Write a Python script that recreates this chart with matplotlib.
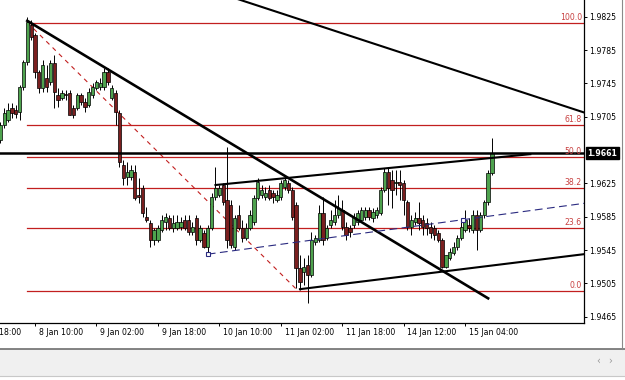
import numpy as np
import matplotlib.pyplot as plt
from matplotlib.patches import Rectangle
from matplotlib.lines import Line2D
import matplotlib.transforms as mtransforms

# H1 bars, OHLC
opens = [1.9677, 1.9695, 1.9701, 1.9715, 1.9713, 1.9711, 1.9741, 1.9771,
         1.9815, 1.9803, 1.9759, 1.9739, 1.9751, 1.9747, 1.9769, 1.9731,
         1.9727, 1.9732, 1.9733, 1.9715, 1.9715, 1.9731, 1.9723, 1.9719,
         1.9731, 1.9739, 1.9741, 1.9741, 1.9759, 1.9727, 1.9733, 1.9709,
         1.9647, 1.9633, 1.9633, 1.9639, 1.9611, 1.9619, 1.9585, 1.9577,
         1.9557, 1.9557, 1.9569, 1.9579, 1.9583, 1.9571, 1.9571, 1.9573,
         1.9581, 1.9581, 1.9567, 1.9583, 1.9557, 1.9565, 1.9549, 1.9571,
         1.9609, 1.9611, 1.9623, 1.9605, 1.9599, 1.9549, 1.9587, 1.9571,
         1.9559, 1.9571, 1.9579, 1.9607, 1.9611, 1.9609, 1.9617, 1.9613,
         1.9605, 1.9609, 1.9621, 1.9625, 1.9617, 1.9599, 1.9523, 1.9519,
         1.9527, 1.9515, 1.9555, 1.9557, 1.9589, 1.9559, 1.9575, 1.9579,
         1.9587, 1.9593, 1.9573, 1.9571, 1.9575, 1.9579, 1.9581, 1.9585,
         1.9593, 1.9583, 1.9587, 1.9589, 1.9617, 1.9639, 1.9629, 1.9625,
         1.9627, 1.9625, 1.9603, 1.9573, 1.9579, 1.9583, 1.9581, 1.9577,
         1.9573, 1.9571, 1.9565, 1.9557, 1.9525, 1.9535, 1.9541, 1.9549,
         1.9559, 1.9569, 1.9575, 1.9569, 1.9587, 1.9569, 1.9587, 1.9603,
         1.9637]
highs = [1.9699, 1.9715, 1.9721, 1.9721, 1.9719, 1.9743, 1.9773, 1.9825,
         1.9821, 1.9805, 1.9761, 1.9773, 1.9767, 1.9773, 1.9779, 1.9739,
         1.9737, 1.9737, 1.9737, 1.9719, 1.9733, 1.9733, 1.9727, 1.9739,
         1.9745, 1.9749, 1.9751, 1.9763, 1.9763, 1.9743, 1.9737, 1.9713,
         1.9653, 1.9651, 1.9647, 1.9647, 1.9631, 1.9623, 1.9597, 1.9581,
         1.9571, 1.9575, 1.9587, 1.9589, 1.9587, 1.9587, 1.9587, 1.9585,
         1.9587, 1.9587, 1.9579, 1.9587, 1.9575, 1.9569, 1.9575, 1.9613,
         1.9645, 1.9623, 1.9625, 1.9669, 1.9605, 1.9587, 1.9599, 1.9581,
         1.9577, 1.9593, 1.9611, 1.9631, 1.9623, 1.9621, 1.9623, 1.9617,
         1.9617, 1.9629, 1.9635, 1.9629, 1.9621, 1.9603, 1.9539, 1.9535,
         1.9539, 1.9567, 1.9563, 1.9599, 1.9609, 1.9575, 1.9593, 1.9605,
         1.9611, 1.9605, 1.9579, 1.9575, 1.9589, 1.9593, 1.9597, 1.9597,
         1.9597, 1.9595, 1.9597, 1.9621, 1.9643, 1.9645, 1.9641, 1.9641,
         1.9641, 1.9629, 1.9605, 1.9587, 1.9591, 1.9603, 1.9587, 1.9583,
         1.9579, 1.9575, 1.9569, 1.9559, 1.9539, 1.9547, 1.9555, 1.9563,
         1.9579, 1.9593, 1.9583, 1.9593, 1.9593, 1.9591, 1.9605, 1.9641,
         1.9679]
lows = [1.9673, 1.9691, 1.9699, 1.9703, 1.9703, 1.9701, 1.9737, 1.9767,
        1.9797, 1.9751, 1.9733, 1.9735, 1.9735, 1.9743, 1.9715, 1.9717,
        1.9725, 1.9725, 1.9707, 1.9703, 1.9713, 1.9719, 1.9711, 1.9717,
        1.9727, 1.9737, 1.9737, 1.9737, 1.9743, 1.9725, 1.9695, 1.9645,
        1.9623, 1.9623, 1.9629, 1.9605, 1.9601, 1.9585, 1.9579, 1.9549,
        1.9551, 1.9555, 1.9567, 1.9569, 1.9569, 1.9567, 1.9569, 1.9569,
        1.9569, 1.9563, 1.9563, 1.9551, 1.9555, 1.9547, 1.9543, 1.9569,
        1.9605, 1.9609, 1.9599, 1.9547, 1.9547, 1.9545, 1.9569, 1.9555,
        1.9557, 1.9569, 1.9575, 1.9605, 1.9607, 1.9605, 1.9605, 1.9601,
        1.9603, 1.9605, 1.9617, 1.9613, 1.9581, 1.9499, 1.9497, 1.9503,
        1.9481, 1.9513, 1.9551, 1.9555, 1.9551, 1.9557, 1.9571, 1.9575,
        1.9583, 1.9569, 1.9557, 1.9561, 1.9571, 1.9575, 1.9579, 1.9581,
        1.9581, 1.9579, 1.9583, 1.9587, 1.9615, 1.9599, 1.9595, 1.9611,
        1.9605, 1.9587, 1.9569, 1.9563, 1.9575, 1.9569, 1.9563, 1.9563,
        1.9559, 1.9557, 1.9555, 1.9523, 1.9523, 1.9533, 1.9539, 1.9545,
        1.9557, 1.9567, 1.9567, 1.9565, 1.9545, 1.9567, 1.9583, 1.9599,
        1.9635]
closes = [1.9695, 1.9709, 1.9713, 1.9709, 1.9708, 1.9741, 1.9771, 1.9819,
          1.9801, 1.9759, 1.9739, 1.9767, 1.9741, 1.9769, 1.9735, 1.9725,
          1.9733, 1.9731, 1.9707, 1.9707, 1.9731, 1.9723, 1.9717, 1.9735,
          1.9741, 1.9747, 1.9745, 1.9759, 1.9747, 1.9739, 1.9711, 1.9651,
          1.9631, 1.9639, 1.9641, 1.9607, 1.9609, 1.9589, 1.9581, 1.9557,
          1.9569, 1.9571, 1.9581, 1.9585, 1.9571, 1.9577, 1.9579, 1.9579,
          1.9571, 1.9567, 1.9573, 1.9557, 1.9571, 1.9549, 1.9571, 1.9609,
          1.9619, 1.9619, 1.9603, 1.9557, 1.9551, 1.9583, 1.9571, 1.9559,
          1.9571, 1.9587, 1.9607, 1.9627, 1.9617, 1.9613, 1.9607, 1.9609,
          1.9611, 1.9625, 1.9629, 1.9617, 1.9585, 1.9523, 1.9507, 1.9525,
          1.9515, 1.9557, 1.9559, 1.9589, 1.9557, 1.9571, 1.9581, 1.9587,
          1.9595, 1.9573, 1.9563, 1.9567, 1.9585, 1.9589, 1.9593, 1.9593,
          1.9585, 1.9591, 1.9593, 1.9617, 1.9639, 1.9619, 1.9617, 1.9627,
          1.9623, 1.9605, 1.9573, 1.9581, 1.9583, 1.9577, 1.9573, 1.9571,
          1.9565, 1.9563, 1.9557, 1.9525, 1.9539, 1.9543, 1.9549, 1.9559,
          1.9573, 1.9581, 1.9571, 1.9587, 1.9569, 1.9587, 1.9603, 1.9637,
          1.9661]

tick_bars = [-7, 9, 25, 41, 57, 73, 89, 105, 121]
tick_labels = ["7 Jan 18:00", "8 Jan 10:00", "9 Jan 02:00", "9 Jan 18:00",
               "10 Jan 10:00", "11 Jan 02:00", "11 Jan 18:00",
               "14 Jan 12:00", "15 Jan 04:00"]
price_ticks = [1.9465, 1.9505, 1.9545, 1.9585, 1.9625, 1.9705, 1.9745,
               1.9785, 1.9825]

# fibonacci retracement: anchors and levels (%)
fib_bars = [7, 77.5]
fib_prices = [1.9818, 1.9496]
fib_levels = [0.0, 23.6, 38.2, 50.0, 61.8, 100.0]

# drawn objects (bar, price) anchors
down_bars, down_prices = [7, 127], [1.9820, 1.9487]
upper_bars, upper_prices = [40, 152], [1.9879, 1.9710]
chan_top_bars, chan_top_prices = [56, 138], [1.9623, 1.9660]
chan_low_bars, chan_low_prices = [78, 152], [1.9498, 1.9540]
chan_mid_bars, chan_mid_prices = [54, 152], [1.9540, 1.9601]
mid_marks_bars, mid_marks_prices = [54, 120.5], [1.9540, 1.9581]
hline_price = 1.9661
last_price = 1.9661

GREEN = '#4ea24e'
RED = '#7a1f1f'
FIB = '#c21f1f'
FS = 5.6

fig = plt.figure(figsize=(6.25, 3.8), dpi=100)
fig.patch.set_facecolor('white')
ax = fig.add_axes([0, 1 - 323 / 380, 584 / 625, 323 / 380])
ax.set_xlim(-0.115, 151.97)
ax.set_ylim(1.94574, 1.9845)

# candles
x = np.arange(len(opens))
o, h, l, c = map(np.array, (opens, highs, lows, closes))
up = c >= o
ax.vlines(x, l, h, color='black', lw=0.7, zorder=3)
bottom = np.minimum(o, c)
height = np.maximum(np.abs(c - o), 0.00005)
ax.bar(x, height, bottom=bottom, width=0.85,
       color=np.where(up, GREEN, RED), edgecolor='black', linewidth=0.5, zorder=4)

# fibonacci
hi, lo = fib_prices
for lev in fib_levels:
    p = lo + (hi - lo) * lev / 100
    ax.plot([fib_bars[0], 152], [p, p], color=FIB, lw=0.9, zorder=2)
    ax.text(151.4, p + 0.0001, f"{lev:.1f}", color='#c84040', fontsize=FS,
            ha='right', va='bottom', zorder=6)
ax.plot(fib_bars, fib_prices, color=FIB, lw=0.8, ls=(0, (4, 4)), zorder=2)

# horizontal line and trendlines
ax.axhline(hline_price, color='black', lw=1.8, zorder=5)
ax.plot(down_bars, down_prices, color='black', lw=1.9, zorder=5)
ax.plot(upper_bars, upper_prices, color='black', lw=1.5, zorder=5)
ax.plot(chan_top_bars, chan_top_prices, color='black', lw=1.5, zorder=5)
ax.plot(chan_low_bars, chan_low_prices, color='black', lw=1.5, zorder=5)
ax.plot(chan_mid_bars, chan_mid_prices, color='#2a2a80', lw=0.8,
        ls=(0, (7, 4)), zorder=5)
ax.plot(mid_marks_bars, mid_marks_prices, ls='none', marker='s', ms=3.5,
        mfc='white', mec='#2a2a80', mew=0.8, zorder=6)

# axes styling
for s in ['top', 'left']:
    ax.spines[s].set_visible(False)
ax.spines['right'].set_linewidth(0.9)
ax.spines['bottom'].set_linewidth(0.9)
ax.yaxis.tick_right()
ax.set_yticks(price_ticks)
ax.set_yticklabels([f"{p:.4f}" for p in price_ticks])
ax.tick_params(axis='y', length=2.5, width=0.7, pad=1.5, labelsize=FS)
ax.set_xticks(tick_bars[1:])
ax.set_xticklabels([])
ax.tick_params(axis='x', length=2.5, width=0.7)

trans = mtransforms.blended_transform_factory(ax.transData, ax.transAxes)
for b, lab in zip(tick_bars, tick_labels):
    ax.text(b + 1.0, -0.028, lab, transform=trans, fontsize=FS,
            ha='left', va='center', clip_on=False)

# current price box
ax.text(1.006, last_price, f"{last_price:.4f}", transform=ax.get_yaxis_transform(),
        fontsize=FS, color='white', ha='left', va='center', fontweight='bold',
        bbox=dict(boxstyle='square,pad=0.2', fc='black', ec='black'), zorder=7,
        clip_on=False)

# terminal frame below the chart
fig.add_artist(Rectangle((0, 4 / 380), 1, 27.4 / 380, transform=fig.transFigure,
                         facecolor='#f0f0f0', edgecolor='none'))
fig.add_artist(Line2D([0, 1], [1 - 348.6 / 380] * 2, transform=fig.transFigure,
                      color='#6e6e6e', lw=1.2))
fig.add_artist(Line2D([0, 1], [4 / 380] * 2, transform=fig.transFigure,
                      color='#c8c8c8', lw=0.8))
fig.add_artist(Line2D([621.5 / 625] * 2, [1 - 348.6 / 380, 1],
                      transform=fig.transFigure, color='#8a8a8a', lw=0.8))
fig.text(598 / 625, 1 - 361 / 380, "\u2039", fontsize=7, color='#9a9a9a',
         ha='center', va='center')
fig.text(610 / 625, 1 - 361 / 380, "\u203a", fontsize=7, color='#9a9a9a',
         ha='center', va='center')

fig.savefig('out.png', dpi=100)
